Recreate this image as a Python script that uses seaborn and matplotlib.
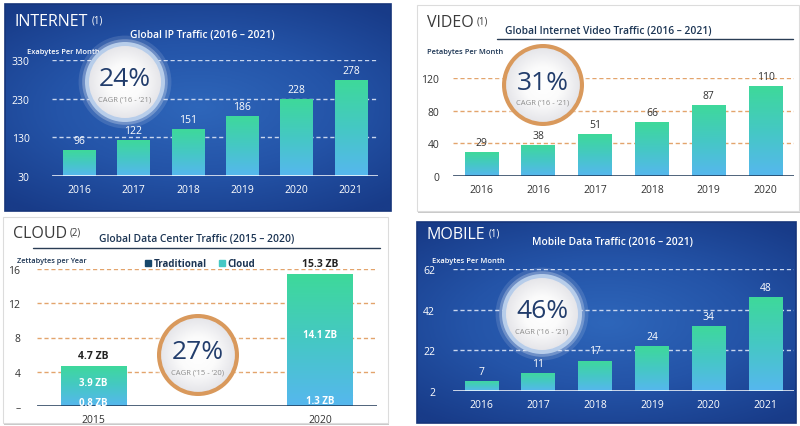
import numpy as np
import matplotlib
matplotlib.use('Agg')
import matplotlib.pyplot as plt
import seaborn as sns
from matplotlib.colors import LinearSegmentedColormap
from matplotlib.patches import Circle, Rectangle, Patch

# ---- data ----
internet_years = ['2016', '2017', '2018', '2019', '2020', '2021']
internet_vals = [96, 122, 151, 186, 228, 278]
internet_ticks = [30, 130, 230, 330]

video_years = ['2016', '2016', '2017', '2018', '2019', '2020']
video_vals = [29, 38, 51, 66, 87, 110]
video_ticks = [0, 40, 80, 120]

cloud_years = ['2015', '2020']
cloud_trad = [0.8, 1.3]
cloud_cloud = [3.9, 14.1]
cloud_trad_labels = ['0.8 ZB', '1.3 ZB']
cloud_cloud_labels = ['3.9 ZB', '14.1 ZB']
cloud_totals = ['4.7 ZB', '15.3 ZB']
cloud_ticks = [0, 4, 8, 12, 16]
cloud_ticklabels = ['–', '4', '8', '12', '16']

mobile_years = ['2016', '2017', '2018', '2019', '2020', '2021']
mobile_vals = [7, 11, 17, 24, 34, 48]
mobile_ticks = [2, 22, 42, 62]

W, H = 800, 427
NAVY = '#1c3554'
DARK = '#17476b'
bar_cmap = LinearSegmentedColormap.from_list('bar', ['#56b7ee', '#45c8c4', '#3ed99a'])
panel_cmap = LinearSegmentedColormap.from_list('panel', ['#2e66ba', '#2454a8', '#183b88'])

sns.set_style('white')
plt.rcParams['font.family'] = ['Open Sans', 'DejaVu Sans']


def px(l, t, r, b):
    return [l / W, 1 - b / H, (r - l) / W, (b - t) / H]


def grad_bars(ax, patches, y0):
    grad = np.linspace(0, 1, 200).reshape(-1, 1)
    for p in patches:
        x, w = p.get_x(), p.get_width()
        bot = max(p.get_y(), y0)
        top = p.get_y() + p.get_height()
        im = ax.imshow(grad, extent=[x, x + w, bot, top], origin='lower',
                       aspect='auto', cmap=bar_cmap, zorder=2)
        im.set_clip_path(p)
        p.set_facecolor('none')
        p.set_edgecolor('none')


def style_axes(ax, ticks, ylim, xlim, dark_bg, labelpad):
    tc = 'white' if dark_bg else '#333333'
    gc = '#c9d6ee' if dark_bg else '#e3a46c'
    bc = 'white' if dark_bg else NAVY
    ax.set_facecolor('none')
    ax.set_ylim(*ylim)
    ax.set_xlim(*xlim)
    sns.despine(ax=ax, left=True, bottom=True, top=True, right=True)
    for t in ticks[1:]:
        ax.axhline(t, color=gc, lw=1, ls=(0, (3, 2)), zorder=1)
    ax.axhline(ylim[0], color=bc, lw=1.8, zorder=4)
    ax.set_yticks(ticks)
    ax.tick_params(axis='y', length=0, pad=labelpad, labelsize=7.5, colors=tc)
    ax.tick_params(axis='x', length=0, pad=6, labelsize=7.5, colors=tc)
    ax.set_xlabel('')
    ax.set_ylabel('')


def heading(bg, x, y, name, sup, color):
    t = bg.text(x, y, name, fontsize=11.5, color=color, va='center', ha='left')
    bg.annotate(sup, xy=(1, 1), xycoords=t, xytext=(2, -1), textcoords='offset points',
                fontsize=7, color=color, va='top', ha='left')


def cagr(ax, cx, cy, r, pct, sub, ring):
    ax.add_patch(Circle((cx, cy), r * 1.16, fc='white', ec='none', alpha=0.12, zorder=5))
    ax.add_patch(Circle((cx, cy), r * 1.07, fc='white', ec='none', alpha=0.25, zorder=5))
    ax.add_patch(Circle((cx, cy), r, fc=ring, ec='none', zorder=6))
    ri = r * 0.9
    yy, xx = np.mgrid[-1:1:120j, -1:1:120j]
    d = np.clip(np.sqrt(xx ** 2 + yy ** 2), 0, 1)
    cm = LinearSegmentedColormap.from_list('c', ['#ffffff', '#fbfbfb', '#e6e6ea'])
    im = ax.imshow(d, extent=[cx - ri, cx + ri, cy + ri, cy - ri], cmap=cm,
                   vmin=0, vmax=1, zorder=7, aspect='auto')
    clip = Circle((cx, cy), ri, transform=ax.transData)
    im.set_clip_path(clip)
    ax.text(cx, cy - 3, pct, fontsize=19, color='#223d6c', ha='center', va='center',
            weight='medium', zorder=8)
    ax.text(cx, cy + 17, sub, fontsize=5.5, color='#8c8c8c', ha='center', va='center', zorder=8)


fig = plt.figure(figsize=(8, 4.27), dpi=100)
fig.patch.set_facecolor('white')

# background layer in pixel coordinates
bg = fig.add_axes([0, 0, 1, 1], zorder=0)
bg.set_axis_off()

yy, xx = np.mgrid[-1:1:200j, -1:1:300j]
panel_img = np.clip(np.sqrt((xx * 0.85) ** 2 + yy ** 2) / 1.25, 0, 1)
for (l, t, r, b) in [(5, 5, 391, 212), (417, 223, 796, 424)]:
    bg.imshow(panel_img, extent=[l, r, b, t], cmap=panel_cmap, aspect='auto', zorder=1)
    bg.add_patch(Rectangle((l, t), r - l, b - t, fc='none', ec='#16357a', lw=1.2, zorder=2))
for (l, t, r, b) in [(417, 6, 799, 212), (3, 218, 388, 424)]:
    bg.add_patch(Rectangle((l + 1, t + 2), r - l, b - t, fc='#c9c9c9', ec='none', zorder=1))
    bg.add_patch(Rectangle((l, t), r - l, b - t, fc='white', ec='#dcdcdc', lw=0.8, zorder=2))

# headings, titles, axis captions
heading(bg, 15, 22, 'INTERNET', '(1)', 'white')
bg.text(202, 36, 'Global IP Traffic (2016 – 2021)', fontsize=7.4, color='white',
        ha='center', va='center', weight='semibold', zorder=3)
bg.text(27, 53, 'Exabytes Per Month', fontsize=5.4, color='white', ha='left', va='center',
        weight='semibold', zorder=3)

heading(bg, 427, 23, 'VIDEO', '(1)', '#3a3a3a')
bg.text(608, 32, 'Global Internet Video Traffic (2016 – 2021)', fontsize=7.4, color=NAVY,
        ha='center', va='center', weight='semibold', zorder=3)
bg.plot([497, 793], [39.5, 39.5], color='#2a3d55', lw=1, zorder=3)
bg.text(427, 52, 'Petabytes Per Month', fontsize=5.4, color=NAVY, ha='left', va='center',
        weight='semibold', zorder=3)

heading(bg, 13, 234, 'CLOUD', '(2)', '#3a3a3a')
bg.text(197, 240, 'Global Data Center Traffic (2015 – 2020)', fontsize=7.4, color=NAVY,
        ha='center', va='center', weight='semibold', zorder=3)
bg.plot([33, 380], [249, 249], color='#2a3d55', lw=1, zorder=3)
bg.text(17, 262, 'Zettabytes per Year', fontsize=5.3, color=NAVY, ha='left', va='center',
        weight='semibold', zorder=3)

heading(bg, 427, 235, 'MOBILE', '(1)', 'white')
bg.text(612, 243, 'Mobile Data Traffic (2016 – 2021)', fontsize=7.4, color='white',
        ha='center', va='center', weight='semibold', zorder=3)
bg.text(432, 262, 'Exabytes Per Month', fontsize=5.4, color='white', ha='left', va='center',
        weight='semibold', zorder=3)

bg.set_xlim(0, W)
bg.set_ylim(H, 0)

# ---- INTERNET ----
ax1 = fig.add_axes(px(52, 61, 378, 177), zorder=2)
sns.barplot(x=np.arange(len(internet_vals)), y=internet_vals, ax=ax1, width=0.59,
            color='#3ed99a', saturation=1)
ax1.bar_label(ax1.containers[0], padding=3, color='white', fontsize=7.5)
grad_bars(ax1, ax1.patches, internet_ticks[0])
ax1.set_xticks(range(len(internet_years)), internet_years)
style_axes(ax1, internet_ticks, (30, 330), (-0.5, 5.5), True, 16)

# ---- VIDEO ----
ax2 = fig.add_axes(px(453, 79, 794, 177), zorder=2)
sns.barplot(x=np.arange(len(video_vals)), y=video_vals, ax=ax2, width=0.59,
            color='#3ed99a', saturation=1)
ax2.bar_label(ax2.containers[0], padding=3, color='#333333', fontsize=7.5)
grad_bars(ax2, ax2.patches, 0)
ax2.set_xticks(range(len(video_years)), video_years)
style_axes(ax2, video_ticks, (0, 120), (-0.5, 5.5), False, 10)

# ---- CLOUD ----
ax3 = fig.add_axes(px(37, 270, 377, 407), zorder=2)
cloud_total = [a + b for a, b in zip(cloud_trad, cloud_cloud)]
sns.barplot(x=np.arange(2), y=cloud_total, ax=ax3, width=0.29, color='#3ed99a', saturation=1)
grad_bars(ax3, list(ax3.patches), 0)
sns.barplot(x=np.arange(2), y=cloud_trad, ax=ax3, width=0.29, color=DARK, saturation=1,
            edgecolor='white', linewidth=1)
for i in range(2):
    ax3.text(i, cloud_trad[i] / 2, cloud_trad_labels[i], color='white', fontsize=7,
             weight='bold', ha='center', va='center', zorder=5)
    ax3.text(i, cloud_trad[i] + cloud_cloud[i] / 2, cloud_cloud_labels[i], color='white',
             fontsize=7, weight='bold', ha='center', va='center', zorder=5)
    ax3.text(i, cloud_total[i] + 0.6, cloud_totals[i], color='#222222', fontsize=7.5,
             weight='bold', ha='center', va='bottom', zorder=5)
ax3.set_xticks(range(2), cloud_years)
style_axes(ax3, cloud_ticks, (0, 16), (-0.25, 1.25), False, 12)
ax3.set_yticklabels(cloud_ticklabels)
ax3.legend(handles=[Patch(color=DARK, label='Traditional'),
                    Patch(color='#45c8c4', label='Cloud')],
           loc='center', bbox_to_anchor=(0.48, 1.04), ncol=2, frameon=False,
           handlelength=0.6, handleheight=0.6, handletextpad=0.3,
           columnspacing=1.2, labelcolor=NAVY, prop={'weight': 'bold', 'size': 7})

# ---- MOBILE ----
ax4 = fig.add_axes(px(453, 270, 794, 392), zorder=2)
sns.barplot(x=np.arange(len(mobile_vals)), y=mobile_vals, ax=ax4, width=0.59,
            color='#3ed99a', saturation=1)
ax4.bar_label(ax4.containers[0], padding=3, color='white', fontsize=7.5)
grad_bars(ax4, ax4.patches, mobile_ticks[0])
ax4.set_xticks(range(len(mobile_years)), mobile_years)
style_axes(ax4, mobile_ticks, (2, 62), (-0.5, 5.5), True, 13)

# ---- CAGR badges on top ----
fg = fig.add_axes([0, 0, 1, 1], zorder=5)
fg.set_axis_off()
fg.patch.set_alpha(0)
cagr(fg, 125, 83, 40, '24%', 'CAGR (‘16 - ‘21)', '#b7cdea')
cagr(fg, 543, 86, 41, '31%', 'CAGR (‘16 - ‘21)', '#d9995c')
cagr(fg, 198, 356, 41, '27%', 'CAGR (‘15 - ‘20)', '#d9995c')
cagr(fg, 542, 315, 40, '46%', 'CAGR (‘16 - ‘21)', '#b7cdea')
fg.set_xlim(0, W)
fg.set_ylim(H, 0)

fig.savefig('out.png', dpi=100)
